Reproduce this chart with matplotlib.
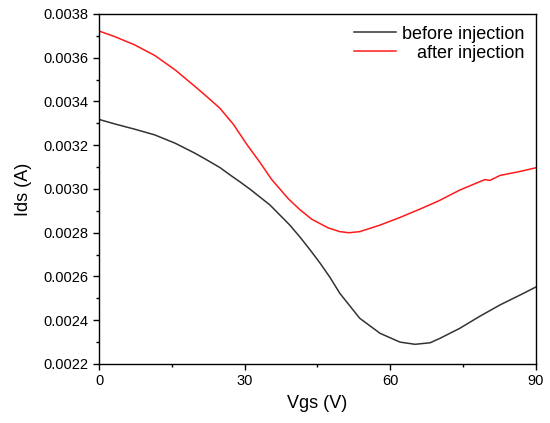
import matplotlib
matplotlib.use("Agg")
import matplotlib.pyplot as plt
from matplotlib.ticker import MultipleLocator, FormatStrFormatter

plt.rcParams['font.family'] = ['Liberation Sans', 'DejaVu Sans']

# before injection
vgs_before = [0, 3.3, 7.4, 11.5, 15.7, 19.8, 21.8, 24.9, 27.0, 29.0, 31.1, 35.2, 39.3, 41.4,
              43.5, 45.5, 47.6, 49.6, 53.7, 57.9, 62.0, 65.1, 68.2, 70.2, 74.3, 78.5, 82.6,
              86.7, 90]
ids_before = [0.003318, 0.003297, 0.003273, 0.003247, 0.003209, 0.003163, 0.003138, 0.003098,
              0.003064, 0.003033, 0.002999, 0.002927, 0.002835, 0.002780,
              0.002721, 0.002662, 0.002595, 0.002523, 0.002409, 0.002340, 0.002300, 0.002290,
              0.002297, 0.002317, 0.002363, 0.002419, 0.002470, 0.002515, 0.002552]

# after injection
vgs_after = [0, 3.3, 7.4, 11.5, 15.7, 19.8, 21.8, 24.9, 27.7, 30.4, 33.2, 35.5, 39.0, 41.4,
             43.8, 47.2, 49.6, 51.5, 53.7, 57.9, 62.0, 66.1, 70.0, 74.3, 78.5, 79.5, 80.5,
             82.6, 86.7, 90]
ids_after = [0.003722, 0.003696, 0.003658, 0.003610, 0.003544, 0.003468, 0.003430, 0.003369,
             0.003295, 0.003205, 0.003120, 0.003045, 0.002955, 0.002905,
             0.002862, 0.002822, 0.002805, 0.002800, 0.002805, 0.002835, 0.002870, 0.002908,
             0.002946, 0.002995, 0.003034, 0.003043, 0.003039, 0.003062, 0.003080, 0.003097]

fig = plt.figure(figsize=(5.5, 4.23), dpi=100)
ax = fig.add_axes([0.18, 0.1395, 0.7945, 0.8275])

ax.plot(vgs_before, ids_before, color='#333333', lw=1.1, label='before injection')
ax.plot(vgs_after, ids_after, color='#ff1a1a', lw=1.1, label='   after injection')

ax.set_xlim(0, 90)
ax.set_ylim(0.0022, 0.0038)
ax.xaxis.set_major_locator(MultipleLocator(30))
ax.xaxis.set_minor_locator(MultipleLocator(15))
ax.yaxis.set_major_locator(MultipleLocator(0.0002))
ax.yaxis.set_minor_locator(MultipleLocator(0.0001))
ax.yaxis.set_major_formatter(FormatStrFormatter('%.4f'))

ax.tick_params(which='both', direction='out', top=False, right=False, width=1.0,
               labelsize=10.5, colors='black')
ax.tick_params(which='major', length=4.5, pad=3)
ax.tick_params(which='minor', length=2.5)
for s in ax.spines.values():
    s.set_linewidth(1.0)

ax.set_xlabel('Vgs (V)', fontsize=13, labelpad=5)
ax.set_ylabel('Ids (A)', fontsize=13, labelpad=8)

leg = ax.legend(loc='upper right', frameon=False, fontsize=13, handlelength=2.3,
                handletextpad=0.35, borderaxespad=0.25, labelspacing=0.1,
                borderpad=0.4)

fig.savefig('out.png', dpi=100)
